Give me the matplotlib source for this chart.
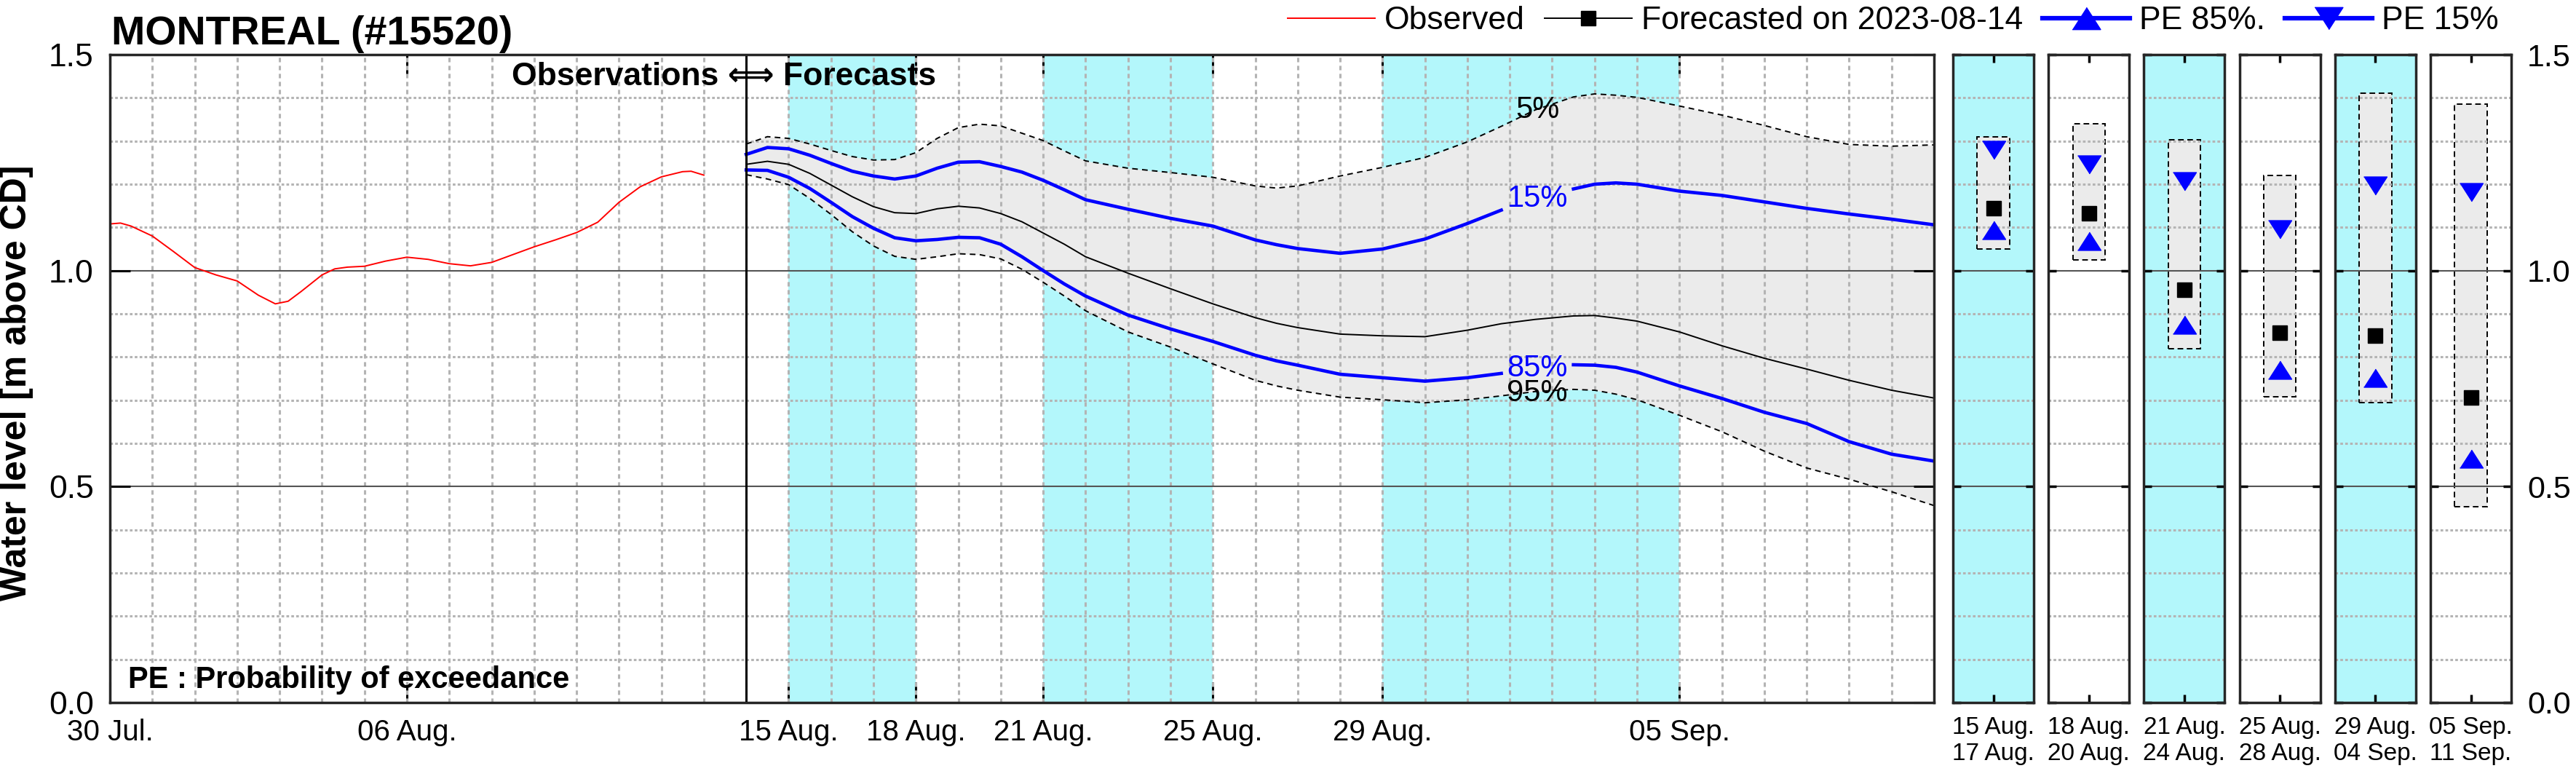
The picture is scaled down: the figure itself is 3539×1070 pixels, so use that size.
import numpy as np
import pandas as pd
import matplotlib
matplotlib.use('Agg')
import matplotlib.pyplot as plt
import matplotlib.dates as mdates
from matplotlib.lines import Line2D
from matplotlib.ticker import MultipleLocator, FixedLocator, FormatStrFormatter

plt.rcParams['font.family'] = ['Liberation Sans', 'DejaVu Sans']

# --- data ---
station = 'MONTREAL (#15520)'
forecast_date = '2023-08-14'

# observed water level, days after 30 Jul
obs_start = '2023-07-30'
obs_days = [0, 0.25, 0.5, 1, 1.5, 2, 2.5, 3, 3.5, 3.9, 4.2, 4.5, 5, 5.3, 5.6, 6,
            6.5, 7, 7.5, 8, 8.5, 9, 9.5, 10, 10.5, 11, 11.5, 12, 12.5, 13, 13.5,
            13.7, 14]
obs_level = [1.108, 1.110, 1.103, 1.080, 1.044, 1.007, 0.990, 0.976, 0.943, 0.923,
             0.929, 0.951, 0.990, 1.004, 1.008, 1.010, 1.022, 1.031, 1.026, 1.016,
             1.011, 1.019, 1.037, 1.055, 1.071, 1.088, 1.112, 1.158, 1.194, 1.217,
             1.229, 1.230, 1.221]

# forecast, days after the forecast date (nan = gap under a curve label)
fc_days = [0, 0.5, 1, 1.5, 2, 2.5, 3, 3.5, 4, 4.5, 5, 5.5, 6, 6.5, 7, 7.5, 8, 9,
           10, 11, 12, 12.5, 13, 14, 15, 16, 17, 17.8, 18.6, 19.5, 20, 20.5, 21,
           22, 23, 24, 25, 26, 27, 28]
pe05 = [1.293, 1.310, 1.306, 1.293, 1.278, 1.264, 1.256, 1.257, 1.273, 1.306,
        1.331, 1.339, 1.335, 1.318, 1.301, 1.277, 1.254, 1.237, 1.227, 1.216,
        1.196, 1.191, 1.196, 1.219, 1.239, 1.262, 1.298, 1.334, 1.372, 1.402,
        1.409, 1.406, 1.401, 1.381, 1.360, 1.336, 1.310, 1.292, 1.288, 1.291]
pe15 = [1.269, 1.285, 1.282, 1.267, 1.248, 1.230, 1.219, 1.212, 1.219, 1.237,
        1.251, 1.252, 1.241, 1.228, 1.209, 1.187, 1.164, 1.142, 1.121, 1.103,
        1.071, 1.060, 1.051, 1.040, 1.050, 1.073, 1.109, 1.140, np.nan, 1.189,
        1.200, 1.203, 1.200, 1.184, 1.174, 1.159, 1.144, 1.131, 1.119, 1.106]
median = [1.246, 1.253, 1.246, 1.225, 1.198, 1.171, 1.148, 1.134, 1.132, 1.143,
          1.149, 1.145, 1.132, 1.113, 1.087, 1.061, 1.032, 0.994, 0.958, 0.923,
          0.891, 0.878, 0.868, 0.853, 0.849, 0.847, 0.862, 0.877, 0.887, 0.895,
          0.896, 0.890, 0.883, 0.858, 0.826, 0.797, 0.772, 0.746, 0.723, 0.705]
pe85 = [1.233, 1.232, 1.216, 1.190, 1.158, 1.125, 1.098, 1.076, 1.069, 1.072,
        1.077, 1.076, 1.061, 1.032, 1.000, 0.969, 0.941, 0.897, 0.865, 0.836,
        0.804, 0.791, 0.781, 0.760, 0.752, 0.744, 0.752, 0.762, np.nan, 0.782,
        0.781, 0.776, 0.765, 0.733, 0.704, 0.672, 0.646, 0.604, 0.575, 0.559]
pe95 = [1.222, 1.212, 1.199, 1.167, 1.130, 1.090, 1.057, 1.033, 1.026, 1.032,
        1.039, 1.037, 1.027, 1.003, 0.973, 0.941, 0.907, 0.858, 0.823, 0.784,
        0.746, 0.733, 0.723, 0.707, 0.701, 0.694, 0.701, 0.710, 0.720, 0.725,
        0.723, 0.714, 0.701, 0.665, 0.627, 0.582, 0.543, 0.517, 0.488, 0.456]

curve_labels = ['5%', '15%', '85%', '95%']
curve_label_lvl = [1.372, 1.166, 0.774, 0.716]
curve_label_day = 18.65

tick_dates = ['2023-07-30', '2023-08-06', '2023-08-15', '2023-08-18', '2023-08-21',
              '2023-08-25', '2023-08-29', '2023-09-05']
period_bounds = ['2023-08-15', '2023-08-18', '2023-08-21', '2023-08-25',
                 '2023-08-29', '2023-09-05', '2023-09-11']

# period summaries (right panels)
period_first = ['15 Aug.', '18 Aug.', '21 Aug.', '25 Aug.', '29 Aug.', '05 Sep.']
period_last = ['17 Aug.', '20 Aug.', '24 Aug.', '28 Aug.', '04 Sep.', '11 Sep.']
box_low = [1.050, 1.024, 0.819, 0.708, 0.694, 0.454]
box_high = [1.309, 1.340, 1.303, 1.220, 1.410, 1.386]
per_pe15 = [1.279, 1.246, 1.207, 1.096, 1.196, 1.182]
per_median = [1.144, 1.133, 0.956, 0.856, 0.849, 0.707]
per_pe85 = [1.093, 1.069, 0.875, 0.770, 0.751, 0.565]

CYAN = '#b3f7fb'
GRAY = '#ebebeb'
BLUE = '#0000ff'
SPINE = '#262626'
GRID = '#b4b4b4'

tri_up = [(-1, -0.78), (1, -0.78), (0, 0.78)]
tri_dn = [(-1, 0.78), (1, 0.78), (0, -0.78)]

W, H = 3539, 1070
fig = plt.figure(figsize=(W / 100, H / 100), dpi=100)

ax_bottom = 1 - 965 / H
ax_height = 890 / H
ax = fig.add_axes([151 / W, ax_bottom, (2657 - 151) / W, ax_height])

obs_t = pd.Timestamp(obs_start) + pd.to_timedelta(obs_days, unit='D')
fc_t = pd.Timestamp(forecast_date) + pd.to_timedelta(fc_days, unit='D')
bounds = pd.to_datetime(period_bounds)

for i in range(0, len(bounds) - 1, 2):
    ax.axvspan(bounds[i], bounds[i + 1], color=CYAN, lw=0, zorder=0)

ax.fill_between(fc_t, pe95, pe05, color=GRAY, lw=0, zorder=1)
ax.plot(fc_t, pe05, color='black', lw=1.4, ls=(0, (4, 3)), zorder=3)
ax.plot(fc_t, pe95, color='black', lw=1.4, ls=(0, (4, 3)), zorder=3)
ax.plot(fc_t, median, color='black', lw=1.4, zorder=3)
ax.plot(fc_t, pe15, color=BLUE, lw=3.3, zorder=4)
ax.plot(fc_t, pe85, color=BLUE, lw=3.3, zorder=4)
ax.plot(obs_t, obs_level, color='red', lw=1.4, zorder=4)
ax.axvline(pd.Timestamp(forecast_date), color='black', lw=2.2, zorder=5)

lbl_x = pd.Timestamp(forecast_date) + pd.Timedelta(days=curve_label_day)
for txt, lvl in zip(curve_labels, curve_label_lvl):
    c = BLUE if txt in ('15%', '85%') else 'black'
    ax.text(lbl_x, lvl, txt, color=c, fontsize=30, ha='center', va='center', zorder=6)

ax.text(pd.Timestamp(forecast_date) - pd.Timedelta(hours=12.7), 1.449,
        'Observations \u27fa Forecasts', fontsize=32, fontweight='bold',
        ha='center', va='center', zorder=6)
ax.text(0.01, 0.035, 'PE : Probability of exceedance', transform=ax.transAxes,
        fontsize=30, fontweight='bold', va='center', zorder=6)

ax.set_xlim(pd.Timestamp(obs_start), bounds[-1])
ax.set_ylim(0, 1.5)
ax.xaxis.set_major_locator(FixedLocator(mdates.date2num(pd.to_datetime(tick_dates))))
ax.xaxis.set_major_formatter(mdates.DateFormatter('%d %b.'))
ax.xaxis.set_minor_locator(mdates.DayLocator())
ax.xaxis.remove_overlapping_locs = False
ax.yaxis.set_major_locator(MultipleLocator(0.5))
ax.yaxis.set_minor_locator(MultipleLocator(0.1))
ax.yaxis.set_major_formatter(FormatStrFormatter('%.1f'))

ax.set_axisbelow('line')
ax.grid(which='major', axis='y', color='#555555', lw=1.5, ls='-')
ax.grid(which='minor', axis='y', color=GRID, lw=2.2, ls=(0, (1.2, 1.0)))
ax.grid(which='minor', axis='x', color=GRID, lw=2.2, ls=(0, (2, 1.6)))

ax.tick_params(which='major', direction='in', length=20, width=2.2, color='black',
               top=True, right=True)
ax.tick_params(which='minor', length=0)
ax.tick_params(axis='x', which='major', labelsize=29, pad=16)
ax.tick_params(axis='y', which='major', labelsize=32, pad=16)
for s in ax.spines.values():
    s.set_linewidth(2.5)
    s.set_color(SPINE)
    s.set_zorder(7)

ax.set_ylabel('Water level [m above CD]', fontsize=36, fontweight='bold')
ax.yaxis.set_label_coords(-0.042, 0.493)

fig.text(153 / W, 1 - 61 / H, station, fontsize=40, fontweight='bold', va='baseline')

# --- period panels ---
for i in range(len(period_first)):
    left = 2683 + i * 131.2
    pax = fig.add_axes([left / W, ax_bottom, 111 / W, ax_height])
    pax.set_facecolor(CYAN if i % 2 == 0 else 'white')
    pax.set_xlim(0, 1)
    pax.set_ylim(0, 1.5)
    pax.bar(0.5, box_high[i] - box_low[i], bottom=box_low[i], width=0.4,
            color=GRAY, edgecolor='black', ls=(0, (4, 2.5)), lw=1.4, zorder=1)
    pax.plot(0.5, per_pe15[i], marker=tri_dn, ms=23, color=BLUE, ls='none', zorder=4)
    pax.plot(0.5, per_median[i], marker='s', ms=15, color='black', ls='none', zorder=4)
    pax.plot(0.5, per_pe85[i], marker=tri_up, ms=23, color=BLUE, ls='none', zorder=4)

    pax.set_xticks([0.5], [period_first[i] + '\n' + period_last[i]])
    pax.yaxis.set_major_locator(MultipleLocator(0.5))
    pax.yaxis.set_minor_locator(MultipleLocator(0.1))
    pax.yaxis.set_major_formatter(FormatStrFormatter('%.1f'))
    pax.set_axisbelow('line')
    pax.grid(which='major', axis='y', color='#555555', lw=1.5, ls='-')
    pax.grid(which='minor', axis='y', color=GRID, lw=2.2, ls=(0, (1.2, 1.0)))
    pax.tick_params(which='major', direction='in', length=8, width=2.5, color='black',
                    top=True, right=True, left=True)
    pax.tick_params(which='minor', length=0)
    pax.tick_params(axis='x', labelsize=24, pad=14)
    pax.tick_params(axis='y', labelleft=False, labelright=(i == len(period_first) - 1),
                    labelsize=31, pad=16)
    for s in pax.spines.values():
        s.set_linewidth(2.5)
        s.set_color(SPINE)
        s.set_zorder(7)

handles = [
    Line2D([], [], color='red', lw=1.4),
    Line2D([], [], color='black', lw=1.4, marker='s', ms=14),
    Line2D([], [], color=BLUE, lw=4.5, marker=tri_up, ms=28),
    Line2D([], [], color=BLUE, lw=4.5, marker=tri_dn, ms=28),
]
labels = ['Observed', 'Forecasted on ' + forecast_date, 'PE 85%.', 'PE 15%']
fig.legend(handles, labels, loc='center right', bbox_to_anchor=(3433 / W, 1 - 29 / H),
           ncol=4, frameon=False, fontsize=32, handlelength=2.7, handletextpad=0.3,
           columnspacing=0.6, borderpad=0, borderaxespad=0)

fig.savefig('out.png', dpi=100)
